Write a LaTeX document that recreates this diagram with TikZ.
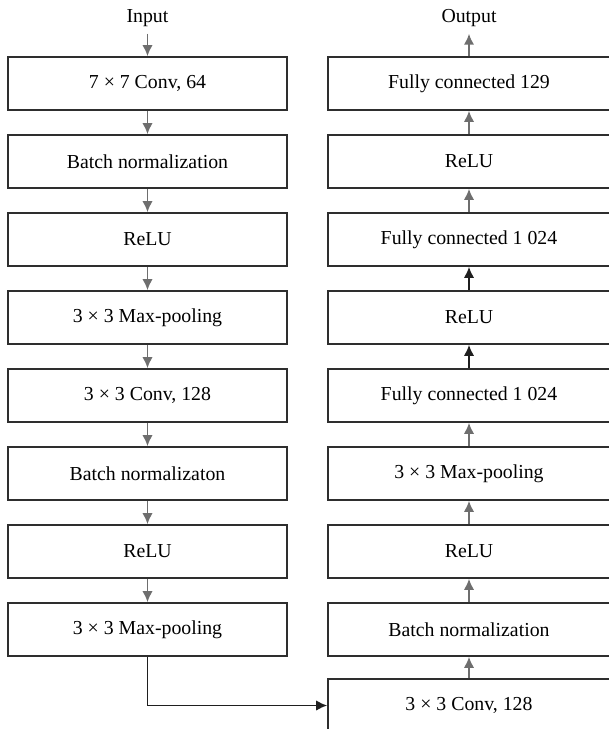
\documentclass[tikz,border=0pt]{standalone}
\usepackage{fontspec}
\setmainfont{Liberation Serif}
\usetikzlibrary{shapes,arrows.meta}
\definecolor{arrgray}{HTML}{6E6E6E}
\definecolor{boxline}{HTML}{2E2E2E}
\tikzstyle{line} = [draw, -{Latex[length=5.5pt,width=5.2pt]}, line width=0.95pt, arrgray]
\tikzstyle{line_dark} = [draw, -{Latex[length=5.5pt,width=5.2pt]}, line width=0.95pt, black!88]
\tikzstyle{layer_l} = [rectangle, draw=boxline, line width=0.8pt, minimum width=139.5pt, minimum height=26.5pt, text centered, node distance=39pt, font=\fontsize{9.9}{10}\selectfont]
\tikzstyle{layer_r} = [rectangle, draw=boxline, line width=0.8pt, minimum width=141pt, minimum height=26.5pt, text centered, node distance=39pt, font=\fontsize{9.9}{10}\selectfont]
\tikzstyle{io} = [node distance=32.75pt, font=\fontsize{9.9}{10}\selectfont]

\begin{document}
\begin{tikzpicture}[x=0.5pt, y=0.5pt]
		\useasboundingbox (0,0) rectangle (609,-729);
		
		% left column
		\node[layer_l] at (147.5,-83.5) (conv_L_1) {7 × 7 Conv, 64};
		\node[layer_l, below of=conv_L_1] (bn_L_1) {Batch normalization};
		\node[layer_l, below of=bn_L_1] (relu_L_1) {ReLU};
		\node[layer_l, below of=relu_L_1] (pool_L_1) {3 × 3 Max-pooling};
		\node[layer_l, below of=pool_L_1] (conv_L_2) {3 × 3 Conv, 128};
		\node[layer_l, below of=conv_L_2] (bn_L_2) {Batch normalizaton};
		\node[layer_l, below of=bn_L_2] (relu_L_2) {ReLU};
		\node[layer_l, below of=relu_L_2] (pool_L_2) {3 × 3 Max-pooling};
		
		\node[io, above of=conv_L_1] (input) {Input};
		
		\path [line] (input) to (conv_L_1.north);
		\path [line] (conv_L_1) to (bn_L_1);
		\path [line] (bn_L_1) to (relu_L_1);
		\path [line] (relu_L_1) to (pool_L_1);
		\path [line] (pool_L_1) to (conv_L_2);
		\path [line] (conv_L_2) to (bn_L_2);
		\path [line] (bn_L_2) to (relu_L_2);
		\path [line] (relu_L_2) to (pool_L_2);
		
		% right column
		\node[layer_r, right of=conv_L_1, node distance=160.75pt] (fc_R_3) {Fully connected 129};
		\node[layer_r, below of=fc_R_3] (relu_R_3) {ReLU};
		\node[layer_r, below of=relu_R_3] (fc_R_2) {Fully connected 1 024};
		\node[layer_r, below of=fc_R_2] (relu_R_2) {ReLU};
		\node[layer_r, below of=relu_R_2] (fc_R_1) {Fully connected 1 024};
		\node[layer_r, below of=fc_R_1] (pool_R) {3 × 3 Max-pooling};
		\node[layer_r, below of=pool_R] (relu_R_1) {ReLU};
		\node[layer_r, below of=relu_R_1] (bn_R) {Batch normalization};
		\node[layer_r, below of=bn_R, node distance=38pt] (conv_R) {3 × 3 Conv, 128};
		
		\node[io, above of=fc_R_3] (output) {Output};
		
		\path [line] (conv_R) to (bn_R);
		\path [line] (bn_R) to (relu_R_1);
		\path [line] (relu_R_1) to (pool_R);
		\path [line] (pool_R) to (fc_R_1);
		\path [line_dark] (fc_R_1) to (relu_R_2);
		\path [line_dark] (relu_R_2) to (fc_R_2);
		\path [line] (fc_R_2) to (relu_R_3);
		\path [line] (relu_R_3) to (fc_R_3);
		\path [line] (fc_R_3.north) to (output);
		
		\path [line_dark, line width=0.85pt] (pool_L_2.south) |- (conv_R.west);
	\end{tikzpicture}
\end{document}
